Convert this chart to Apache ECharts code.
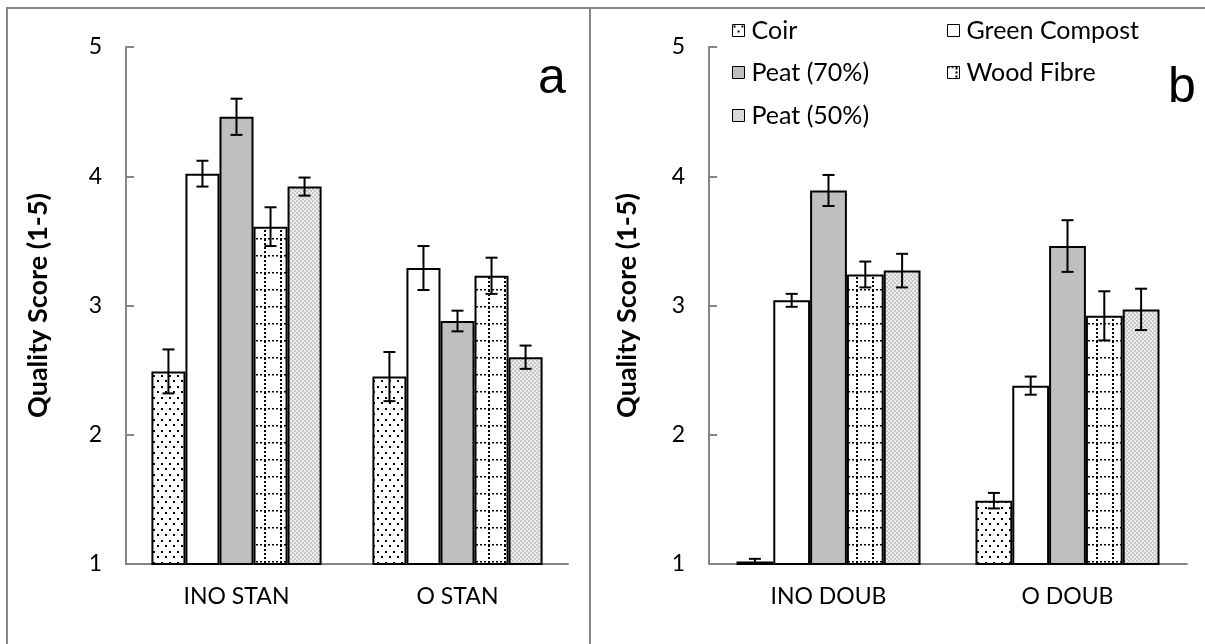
<!DOCTYPE html>
<html><head><meta charset="utf-8">
<script src="https://cdn.jsdelivr.net/npm/echarts@6/dist/echarts.min.js"></script>
<style>html,body{margin:0;padding:0;background:#fff}#c{width:1205px;height:644px}</style>
</head><body><div id="c"></div>
<script>
// ---- data ----
const seriesNames = ['Coir', 'Green Compost', 'Peat (70%)', 'Wood Fibre', 'Peat (50%)'];
const categoriesA = ['INO STAN', 'O STAN'];
const categoriesB = ['INO DOUB', 'O DOUB'];
const yTicks = [1, 2, 3, 4, 5];
// panel a
const coirA = [2.49, 2.45];      const coirErrA = [0.17, 0.19];
const greenA = [4.02, 3.29];     const greenErrA = [0.10, 0.17];
const peat70A = [4.46, 2.88];    const peat70ErrA = [0.14, 0.08];
const woodA = [3.61, 3.23];      const woodErrA = [0.15, 0.14];
const peat50A = [3.92, 2.60];    const peat50ErrA = [0.07, 0.09];
// panel b
const coirB = [1.02, 1.49];      const coirErrB = [0.02, 0.06];
const greenB = [3.04, 2.38];     const greenErrB = [0.05, 0.07];
const peat70B = [3.89, 3.46];    const peat70ErrB = [0.12, 0.20];
const woodB = [3.24, 2.92];      const woodErrB = [0.10, 0.19];
const peat50B = [3.27, 2.97];    const peat50ErrB = [0.13, 0.16];

// ---- patterns ----
function mk(w, h, draw) { const c = document.createElement('canvas'); c.width = w; c.height = h; const g = c.getContext('2d'); g.fillStyle = '#fff'; g.fillRect(0, 0, w, h); draw(g); return { image: c, repeat: 'repeat' }; }
const patCoir = mk(8, 11, g => { g.fillStyle = '#000'; g.fillRect(1, 1, 2, 2); g.fillRect(5, 6, 2, 2); });
const patWood = mk(16, 17, g => { g.fillStyle = '#000'; for (let x = 0; x < 16; x += 4) g.fillRect(x, 0, 2, 1.5); for (let y = 0; y < 17; y += 4) g.fillRect(8, y + 1, 2, 2); });
const patPeat50 = mk(4, 4, g => { g.fillStyle = '#c8c8c8'; g.fillRect(0, 0, 2, 2); g.fillRect(2, 2, 2, 2); g.fillStyle = '#ececec'; g.fillRect(2, 0, 2, 2); g.fillRect(0, 2, 2, 2); });
const fills = [patCoir, '#ffffff', '#bfbfbf', patWood, patPeat50];

const FONT = 'Lato';
const GAP = 0.23;
const valsA = [coirA, greenA, peat70A, woodA, peat50A];
const errsA = [coirErrA, greenErrA, peat70ErrA, woodErrA, peat50ErrA];
const valsB = [coirB, greenB, peat70B, woodB, peat50B];
const errsB = [coirErrB, greenErrB, peat70ErrB, woodErrB, peat50ErrB];

function errData(vals, errs) { const d = []; vals.forEach((arr, si) => arr.forEach((v, ci) => d.push([ci, si, v, errs[si][ci]]))); return d; }
function renderErr(params, api) {
  const ci = api.value(0), si = api.value(1), v = api.value(2), e = api.value(3);
  const band = api.size([1, 0])[0];
  const bw = band * (1 - GAP) / 5;
  const c = api.coord([ci, v]);
  const x = c[0] - band * (1 - GAP) / 2 + (si + 0.5) * bw;
  const yt = api.coord([ci, v + e])[1], yb = api.coord([ci, v - e])[1];
  const st = { stroke: '#000', lineWidth: 2 };
  return { type: 'group', children: [
    { type: 'line', shape: { x1: x, y1: yt, x2: x, y2: yb }, style: st },
    { type: 'line', shape: { x1: x - 6, y1: yt, x2: x + 6, y2: yt }, style: st },
    { type: 'line', shape: { x1: x - 6, y1: yb, x2: x + 6, y2: yb }, style: st }
  ] };
}

const axisGray = '#868686';
function xAxis(gi, cats) {
  return { type: 'category', gridIndex: gi, data: cats, boundaryGap: true,
    axisLine: { lineStyle: { color: axisGray, width: 2 } },
    axisTick: { inside: true, length: 6, lineStyle: { color: axisGray, width: 2 } },
    axisLabel: { color: '#000', fontSize: 23, fontFamily: FONT, margin: 21 } };
}
function yAxis(gi, gap) {
  return { type: 'value', gridIndex: gi, min: yTicks[0], max: yTicks[yTicks.length - 1], interval: 1,
    name: 'Quality Score (1-5)', nameLocation: 'middle', nameGap: gap, nameRotate: 90,
    nameTextStyle: { color: '#000', fontSize: 27, fontWeight: 'bold', fontFamily: FONT },
    axisLine: { show: true, lineStyle: { color: axisGray, width: 2 } },
    axisTick: { show: true, inside: true, length: 8, lineStyle: { color: axisGray, width: 2 } },
    splitLine: { show: false },
    axisLabel: { color: '#000', fontSize: 23, fontFamily: FONT, margin: 24 } };
}

const series = [];
[[valsA, 0], [valsB, 1]].forEach(([vals, gi]) => {
  vals.forEach((arr, si) => series.push({ type: 'bar', name: seriesNames[si], xAxisIndex: gi, yAxisIndex: gi,
    data: arr, barGap: '0%', barCategoryGap: (GAP * 100) + '%',
    itemStyle: { color: fills[si], borderColor: '#000', borderWidth: 2 }, emphasis: { disabled: true } }));
});
series.push({ type: 'custom', xAxisIndex: 0, yAxisIndex: 0, renderItem: renderErr, data: errData(valsA, errsA), encode: { x: 0, y: 2 }, z: 5 });
series.push({ type: 'custom', xAxisIndex: 1, yAxisIndex: 1, renderItem: renderErr, data: errData(valsB, errsB), encode: { x: 0, y: 2 }, z: 5 });

const legendPos = [[732, 18], [947, 18], [732, 60], [947, 60], [732, 103]];
const legends = seriesNames.map((n, i) => ({ data: [n], left: legendPos[i][0], top: legendPos[i][1], padding: 0,
  itemWidth: 12, itemHeight: 12, icon: 'rect', selectedMode: false,
  itemStyle: { borderWidth: 1, borderColor: '#000' },
  textStyle: { color: '#000', fontSize: 25, fontFamily: FONT, padding: [0, 0, 0, 2] } }));

const chart = echarts.init(document.getElementById('c'), null, { renderer: 'canvas' });
chart.setOption({
  animation: false,
  backgroundColor: '#fff',
  grid: [{ left: 126, right: 637, top: 47, bottom: 80 }, { left: 709, right: 18, top: 47, bottom: 80 }],
  xAxis: [xAxis(0, categoriesA), xAxis(1, categoriesB)],
  yAxis: [yAxis(0, 74), yAxis(1, 68)],
  legend: legends,
  series: series,
  graphic: [
    { type: 'rect', shape: { x: 7, y: 8, width: 583, height: 660 }, style: { fill: 'none', stroke: axisGray, lineWidth: 2 }, z: -1 },
    { type: 'rect', shape: { x: 590, y: 8, width: 630, height: 660 }, style: { fill: 'none', stroke: axisGray, lineWidth: 2 }, z: -1 },
    { type: 'text', x: 538, y: 54, style: { text: 'a', font: '50px "Liberation Sans"', fill: '#000', textBaseline: 'alphabetic' } },
    { type: 'text', x: 1168, y: 63, style: { text: 'b', font: '50px "Liberation Sans"', fill: '#000', textBaseline: 'alphabetic' } }
  ]
});
</script></body></html>
